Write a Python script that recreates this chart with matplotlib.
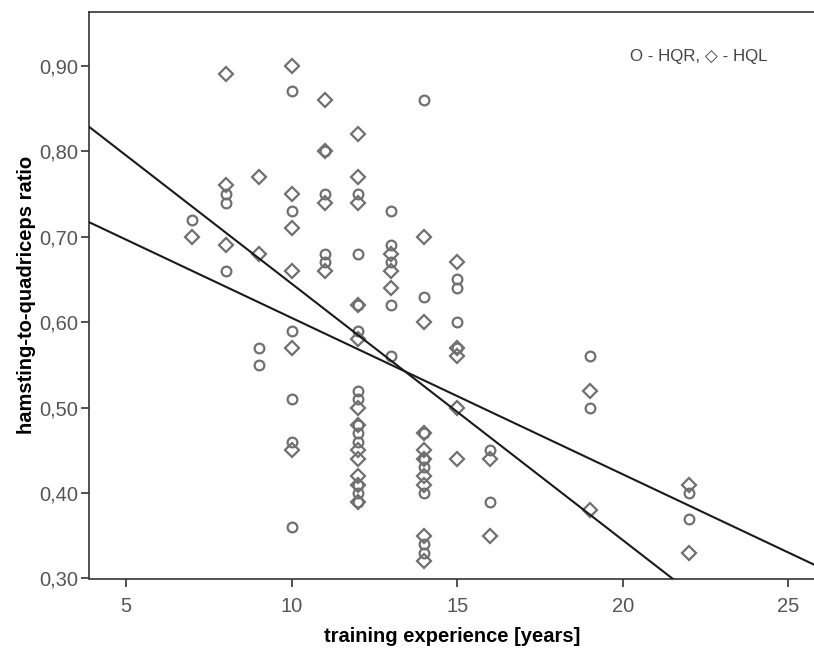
import matplotlib
matplotlib.use("Agg")
import matplotlib.pyplot as plt
import numpy as np

plt.rcParams['font.family'] = ['Liberation Sans', 'DejaVu Sans']

# HQR (circles)
hqr_x = [7, 8, 8, 8, 9, 9,
         10, 10, 10, 10, 10, 10,
         11, 11, 11, 11,
         12, 12, 12, 12, 12, 12, 12, 12, 12, 12, 12, 12,
         13, 13, 13, 13, 13,
         14, 14, 14, 14, 14, 14, 14, 14,
         15, 15, 15, 15,
         16, 16,
         19, 19,
         22, 22]
hqr_y = [0.72, 0.75, 0.74, 0.66, 0.57, 0.55,
         0.87, 0.73, 0.59, 0.51, 0.46, 0.36,
         0.80, 0.75, 0.68, 0.67,
         0.75, 0.68, 0.62, 0.59, 0.52, 0.51, 0.48, 0.47, 0.46, 0.41, 0.40, 0.39,
         0.73, 0.69, 0.67, 0.62, 0.56,
         0.86, 0.63, 0.47, 0.44, 0.43, 0.40, 0.34, 0.33,
         0.65, 0.64, 0.60, 0.57,
         0.45, 0.39,
         0.56, 0.50,
         0.40, 0.37]

# HQL (diamonds)
hql_x = [7, 8, 8, 8, 9, 9,
         10, 10, 10, 10, 10, 10,
         11, 11, 11, 11,
         12, 12, 12, 12, 12, 12, 12, 12, 12, 12, 12, 12,
         13, 13, 13,
         14, 14, 14, 14, 14, 14, 14, 14, 14,
         15, 15, 15, 15, 15,
         16, 16,
         19, 19,
         22, 22]
hql_y = [0.70, 0.89, 0.76, 0.69, 0.77, 0.68,
         0.90, 0.75, 0.71, 0.66, 0.57, 0.45,
         0.86, 0.80, 0.74, 0.66,
         0.82, 0.77, 0.74, 0.62, 0.58, 0.50, 0.48, 0.45, 0.44, 0.42, 0.41, 0.39,
         0.68, 0.66, 0.64,
         0.70, 0.60, 0.47, 0.45, 0.44, 0.42, 0.41, 0.35, 0.32,
         0.67, 0.57, 0.56, 0.50, 0.44,
         0.44, 0.35,
         0.52, 0.38,
         0.41, 0.33]

# Fit lines: (intercept at x=0, slope)
fit_steep = (0.945, -0.0300)
fit_flat = (0.788, -0.0183)

x_ticks = [5, 10, 15, 20, 25]
y_ticks = [0.30, 0.40, 0.50, 0.60, 0.70, 0.80, 0.90]
y_tick_labels = ["0,30", "0,40", "0,50", "0,60", "0,70", "0,80", "0,90"]

W, H = 814, 653
fig = plt.figure(figsize=(W / 100, H / 100), dpi=100)
left_px, right_px, top_px, bottom_px = 89, 816, 12, 578.5
ax = fig.add_axes([left_px / W, (H - bottom_px) / H,
                   (right_px - left_px) / W, (bottom_px - top_px) / H])

xmin, xmax = 3.876, 25.84
ax.set_xlim(xmin, xmax)
ax.set_ylim(0.30, 0.963)

mc = '#707070'
ax.plot(hqr_x, hqr_y, linestyle='none', marker='o', markersize=7.0,
        markerfacecolor='none', markeredgecolor=mc, markeredgewidth=1.6, zorder=3)
ax.plot(hql_x, hql_y, linestyle='none', marker='D', markersize=7.2,
        markerfacecolor='none', markeredgecolor=mc, markeredgewidth=1.6, zorder=3)

xs = np.array([xmin, xmax])
for b0, b1 in (fit_steep, fit_flat):
    ax.plot(xs, b0 + b1 * xs, color='#1a1a1a', linewidth=1.5, zorder=4)

ax.set_xticks(x_ticks)
ax.set_yticks(y_ticks)
ax.set_yticklabels(y_tick_labels)
ax.tick_params(axis='both', direction='out', length=6, width=1.2, color='#333333',
               labelsize=14.5, labelcolor='#555555', pad=2)
ax.tick_params(axis='x', pad=7)
for s in ax.spines.values():
    s.set_color('#333333')
    s.set_linewidth(1.2)
ax.spines['right'].set_visible(False)

ax.set_xlabel('training experience [years]', fontsize=14.5, fontweight='bold', labelpad=8)
ax.set_ylabel('hamsting-to-quadriceps ratio', fontsize=14.5, fontweight='bold')
ax.yaxis.set_label_coords((36 - left_px) / (right_px - left_px), 0.5)

ax.text(0.744, 0.921, 'O - HQR, \u25C7 - HQL', transform=ax.transAxes,
        fontsize=12.2, color='#444444', ha='left', va='center',
        family=['Liberation Sans', 'DejaVu Sans'])

fig.savefig('out.png', dpi=100)
